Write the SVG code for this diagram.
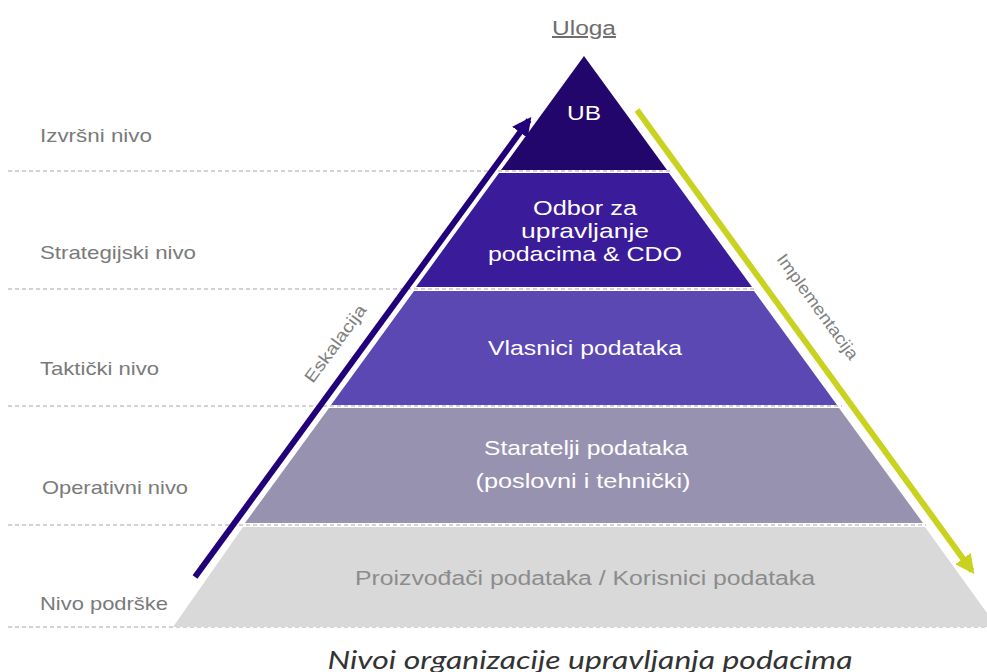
<svg xmlns="http://www.w3.org/2000/svg" width="987" height="672" viewBox="0 0 987 672">
<style>
.lvl{font-family:"Liberation Sans",Arial,sans-serif;font-size:19px;fill:#7a7a7a}
.wt{font-family:"Liberation Sans",Arial,sans-serif;font-size:21px;fill:#ffffff;text-anchor:middle}
.dash{stroke:#a6a6a6;stroke-width:1.2;stroke-dasharray:4 3;fill:none}
.arr{font-family:"Liberation Sans",Arial,sans-serif;font-size:17px;fill:#808080;text-anchor:middle}
</style>
<defs>
<marker id="hPurple" viewBox="0 0 10 10" refX="8" refY="5" markerWidth="3.2" markerHeight="3.2" orient="auto" markerUnits="strokeWidth"><path d="M0,0 L10,5 L0,10 Z" fill="#22007a"/></marker>
<marker id="hYellow" viewBox="0 0 10 10" refX="8" refY="5" markerWidth="3.2" markerHeight="3.2" orient="auto" markerUnits="strokeWidth"><path d="M0,0 L10,5 L0,10 Z" fill="#c8d21f"/></marker>
</defs>
<rect width="987" height="672" fill="#ffffff"/>
<g id="gridlines">
<line class="dash" x1="8" y1="171" x2="670" y2="171"/>
<line class="dash" x1="8" y1="289" x2="757" y2="289"/>
<line class="dash" x1="8" y1="406" x2="842" y2="406"/>
<line class="dash" x1="8" y1="525" x2="926" y2="525"/>
<line class="dash" x1="8" y1="627" x2="987" y2="627"/>
</g>
<g id="uloga"><text x="584" y="35" font-family="'Liberation Sans',Arial,sans-serif" font-size="20" fill="#6e6e6e" text-anchor="middle" text-decoration="underline" textLength="64" lengthAdjust="spacingAndGlyphs">Uloga</text></g>
<g id="level-labels">
<text class="lvl" x="40" y="142" textLength="112" lengthAdjust="spacingAndGlyphs">Izvršni nivo</text>
<text class="lvl" x="40" y="259" textLength="156" lengthAdjust="spacingAndGlyphs">Strategijski nivo</text>
<text class="lvl" x="40" y="375" textLength="119" lengthAdjust="spacingAndGlyphs">Taktički nivo</text>
<text class="lvl" x="42" y="494" textLength="146" lengthAdjust="spacingAndGlyphs">Operativni nivo</text>
<text class="lvl" x="40" y="610" textLength="128" lengthAdjust="spacingAndGlyphs">Nivo podrške</text>
</g>
<g id="layer-ub">
<polygon points="584,56 667,170 501,170" fill="#22066c"/>
<text class="wt" x="584" y="120" textLength="34" lengthAdjust="spacingAndGlyphs">UB</text>
</g>
<g id="layer-odbor">
<polygon points="499,173 669,173 752,287 416,287" fill="#3a1b99"/>
<text class="wt" x="585" y="215" textLength="104" lengthAdjust="spacingAndGlyphs">Odbor za</text>
<text class="wt" x="585" y="238" textLength="128" lengthAdjust="spacingAndGlyphs">upravljanje</text>
<text class="wt" x="585" y="261" textLength="194" lengthAdjust="spacingAndGlyphs">podacima &amp; CDO</text>
</g>
<g id="layer-vlasnici">
<polygon points="414,291 754,291 837,405 331,405" fill="#5b48b3"/>
<text class="wt" x="585" y="355" textLength="194" lengthAdjust="spacingAndGlyphs">Vlasnici podataka</text>
</g>
<g id="layer-staratelji">
<polygon points="329,408 839,408 923,523 245,523" fill="#9792b0"/>
<text class="wt" x="586" y="455" textLength="204" lengthAdjust="spacingAndGlyphs">Staratelji podataka</text>
<text class="wt" x="583" y="488" textLength="215" lengthAdjust="spacingAndGlyphs">(poslovni i tehnički)</text>
</g>
<g id="layer-proizvodjaci">
<polygon points="243,527 925,527 997,627 173,627" fill="#d9d9d9"/>
<text x="585" y="585" font-family="'Liberation Sans',Arial,sans-serif" font-size="20" fill="#8c8c8c" text-anchor="middle" textLength="460" lengthAdjust="spacingAndGlyphs">Proizvođači podataka / Korisnici podataka</text>
</g>
<g id="connectors">
<line x1="195" y1="577" x2="529" y2="120" stroke="#22007a" stroke-width="6" marker-end="url(#hPurple)"/>
<line x1="637" y1="110" x2="972" y2="571" stroke="#c8d21f" stroke-width="6" marker-end="url(#hYellow)"/>
</g>
<g id="arrow-labels">
<text class="arr" transform="translate(340,347) rotate(-53.8)" textLength="92" lengthAdjust="spacingAndGlyphs">Eskalacija</text>
<text class="arr" transform="translate(813,310) rotate(54)" textLength="126" lengthAdjust="spacingAndGlyphs">Implementacija</text>
</g>
<g id="caption"><text x="590" y="669" font-family="Lato,'Open Sans',sans-serif" font-style="italic" font-size="26" fill="#333333" text-anchor="middle" textLength="525" lengthAdjust="spacingAndGlyphs">Nivoi organizacije upravljanja podacima</text></g>
</svg>
